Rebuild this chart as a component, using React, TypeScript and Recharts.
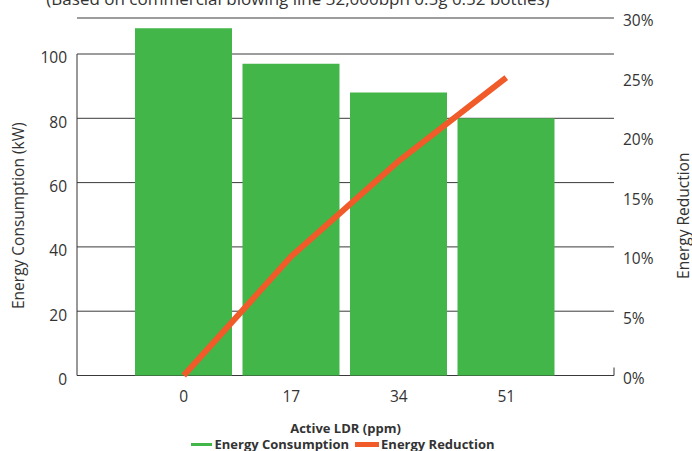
import { Bar, CartesianGrid, ComposedChart, Legend, Line, XAxis, YAxis } from "recharts"

const categories = ["0", "17", "34", "51"]
const consumption = [108, 97, 88, 80]
const reduction = [0, 10, 18, 25]
const leftTicks = [0, 20, 40, 60, 80, 100]
const rightTicks = [0, 5, 10, 15, 20, 25, 30]

const W = 692
const H = 451
const TOP = 18
const LEFT_W = 77
const RIGHT_W = 78
const XAXIS_H = 59.5
const LEGEND_H = 16
const PLOT_H = H - TOP - XAXIS_H - LEGEND_H
const LEFT_MAX = 111.2
const RIGHT_MAX = 30

const GREEN = "#43B649"
const ORANGE = "#F15A29"
const INK = "#333333"
const FONT = '"Open Sans", sans-serif'

const data = categories.map((c, i) => ({ ldr: c, consumption: consumption[i], reduction: reduction[i] }))

// left axis line stops at the 100 tick, right one is only a short stub at 0
const leftGap = PLOT_H * (1 - 100 / LEFT_MAX)

function LeftTick({ x, y, payload }: any) {
  return (
    <text x={x} y={y} dy={9.3} textAnchor="end" fill={INK} fontSize={15.5} fontFamily={FONT}>
      {payload.value}
    </text>
  )
}

function RightTick({ x, y, payload }: any) {
  return (
    <text x={x} y={y} dy={8} textAnchor="start" fill={INK} fontSize={15.5} fontFamily={FONT}>
      {`${payload.value}%`}
    </text>
  )
}

function BottomTick({ x, y, payload }: any) {
  return (
    <text x={x} y={y} dy={26.5} textAnchor="middle" fill={INK} fontSize={15.5} fontFamily={FONT}>
      {payload.value}
    </text>
  )
}

function SideTitle({ viewBox, text, inset, side }: any) {
  const cx = side === "left" ? viewBox.x + inset : viewBox.x + viewBox.width - inset
  const cy = viewBox.y + viewBox.height / 2 + 19
  return (
    <text
      x={cx}
      y={cy}
      transform={`rotate(-90 ${cx} ${cy})`}
      textAnchor="middle"
      fill={INK}
      fontSize={15.5}
      fontFamily={FONT}
    >
      {text}
    </text>
  )
}

function BottomTitle({ viewBox }: any) {
  return (
    <text
      x={viewBox.x + viewBox.width / 2}
      y={viewBox.y + 57.5}
      textAnchor="middle"
      fill={INK}
      fontSize={13}
      fontWeight={700}
      fontFamily={FONT}
    >
      Active LDR (ppm)
    </text>
  )
}

function LegendBox() {
  const item = (color: string, thick: number, len: number, label: string) => (
    <span style={{ display: "inline-flex", alignItems: "center", marginRight: 6 }}>
      <span style={{ display: "inline-block", width: len, height: thick, background: color, marginRight: 2 }} />
      <span>{label}</span>
    </span>
  )
  return (
    <div
      style={{
        height: LEGEND_H,
        lineHeight: `${LEGEND_H}px`,
        paddingTop: 1,
        display: "flex",
        justifyContent: "center",
        fontFamily: FONT,
        fontSize: 13,
        fontWeight: 700,
        color: INK,
      }}
    >
      {item(GREEN, 3, 21, "Energy Consumption")}
      {item(ORANGE, 5, 24, "Energy Reduction")}
    </div>
  )
}

export default function App() {
  return (
    <div style={{ position: "relative", width: W, height: H, overflow: "hidden", fontFamily: FONT }}>
      <style>{`body{margin:0}`}</style>
      <div
        style={{
          position: "absolute",
          top: -10,
          left: 0,
          width: 596,
          textAlign: "center",
          fontSize: 17,
          lineHeight: "17px",
          color: INK,
          whiteSpace: "nowrap",
        }}
      >
        (Based on commercial blowing line 32,000bph 0.5g 0.52 bottles)
      </div>
      <ComposedChart width={W} height={H} data={data} margin={{ top: TOP, right: 0, left: 0, bottom: 0 }}>
        <CartesianGrid yAxisId="left" horizontal vertical={false} stroke="#3a3a3a" strokeWidth={1} />
        <XAxis
          dataKey="ldr"
          height={XAXIS_H}
          padding={{ left: 53, right: 54 }}
          axisLine={false}
          tickLine={false}
          tickSize={0}
          tickMargin={0}
          tick={<BottomTick />}
          label={(p: any) => <BottomTitle {...p} />}
        />
        <YAxis
          yAxisId="left"
          width={LEFT_W}
          domain={[0, LEFT_MAX]}
          ticks={leftTicks}
          tickLine={false}
          tickSize={0}
          tickMargin={10}
          axisLine={{ stroke: INK, strokeDasharray: `0 ${leftGap} ${PLOT_H} 1000` }}
          tick={<LeftTick />}
          label={(p: any) => <SideTitle {...p} text="Energy Consumption (kW)" inset={24} side="left" />}
        />
        <YAxis
          yAxisId="right"
          orientation="right"
          width={RIGHT_W}
          domain={[0, RIGHT_MAX]}
          ticks={rightTicks}
          tickLine={false}
          tickSize={0}
          tickMargin={9}
          axisLine={{ stroke: INK, strokeDasharray: `0 ${PLOT_H - 8} 8 1000` }}
          tick={<RightTick />}
          label={(p: any) => <SideTitle {...p} text="Energy Reduction" inset={3} side="right" />}
        />
        <Legend verticalAlign="bottom" height={LEGEND_H} content={<LegendBox />} />
        <Bar yAxisId="left" dataKey="consumption" name="Energy Consumption" fill={GREEN} barSize={97} isAnimationActive={false} />
        <Line
          yAxisId="right"
          type="linear"
          dataKey="reduction"
          name="Energy Reduction"
          stroke={ORANGE}
          strokeWidth={6}
          dot={false}
          activeDot={false}
          isAnimationActive={false}
        />
      </ComposedChart>
    </div>
  )
}
